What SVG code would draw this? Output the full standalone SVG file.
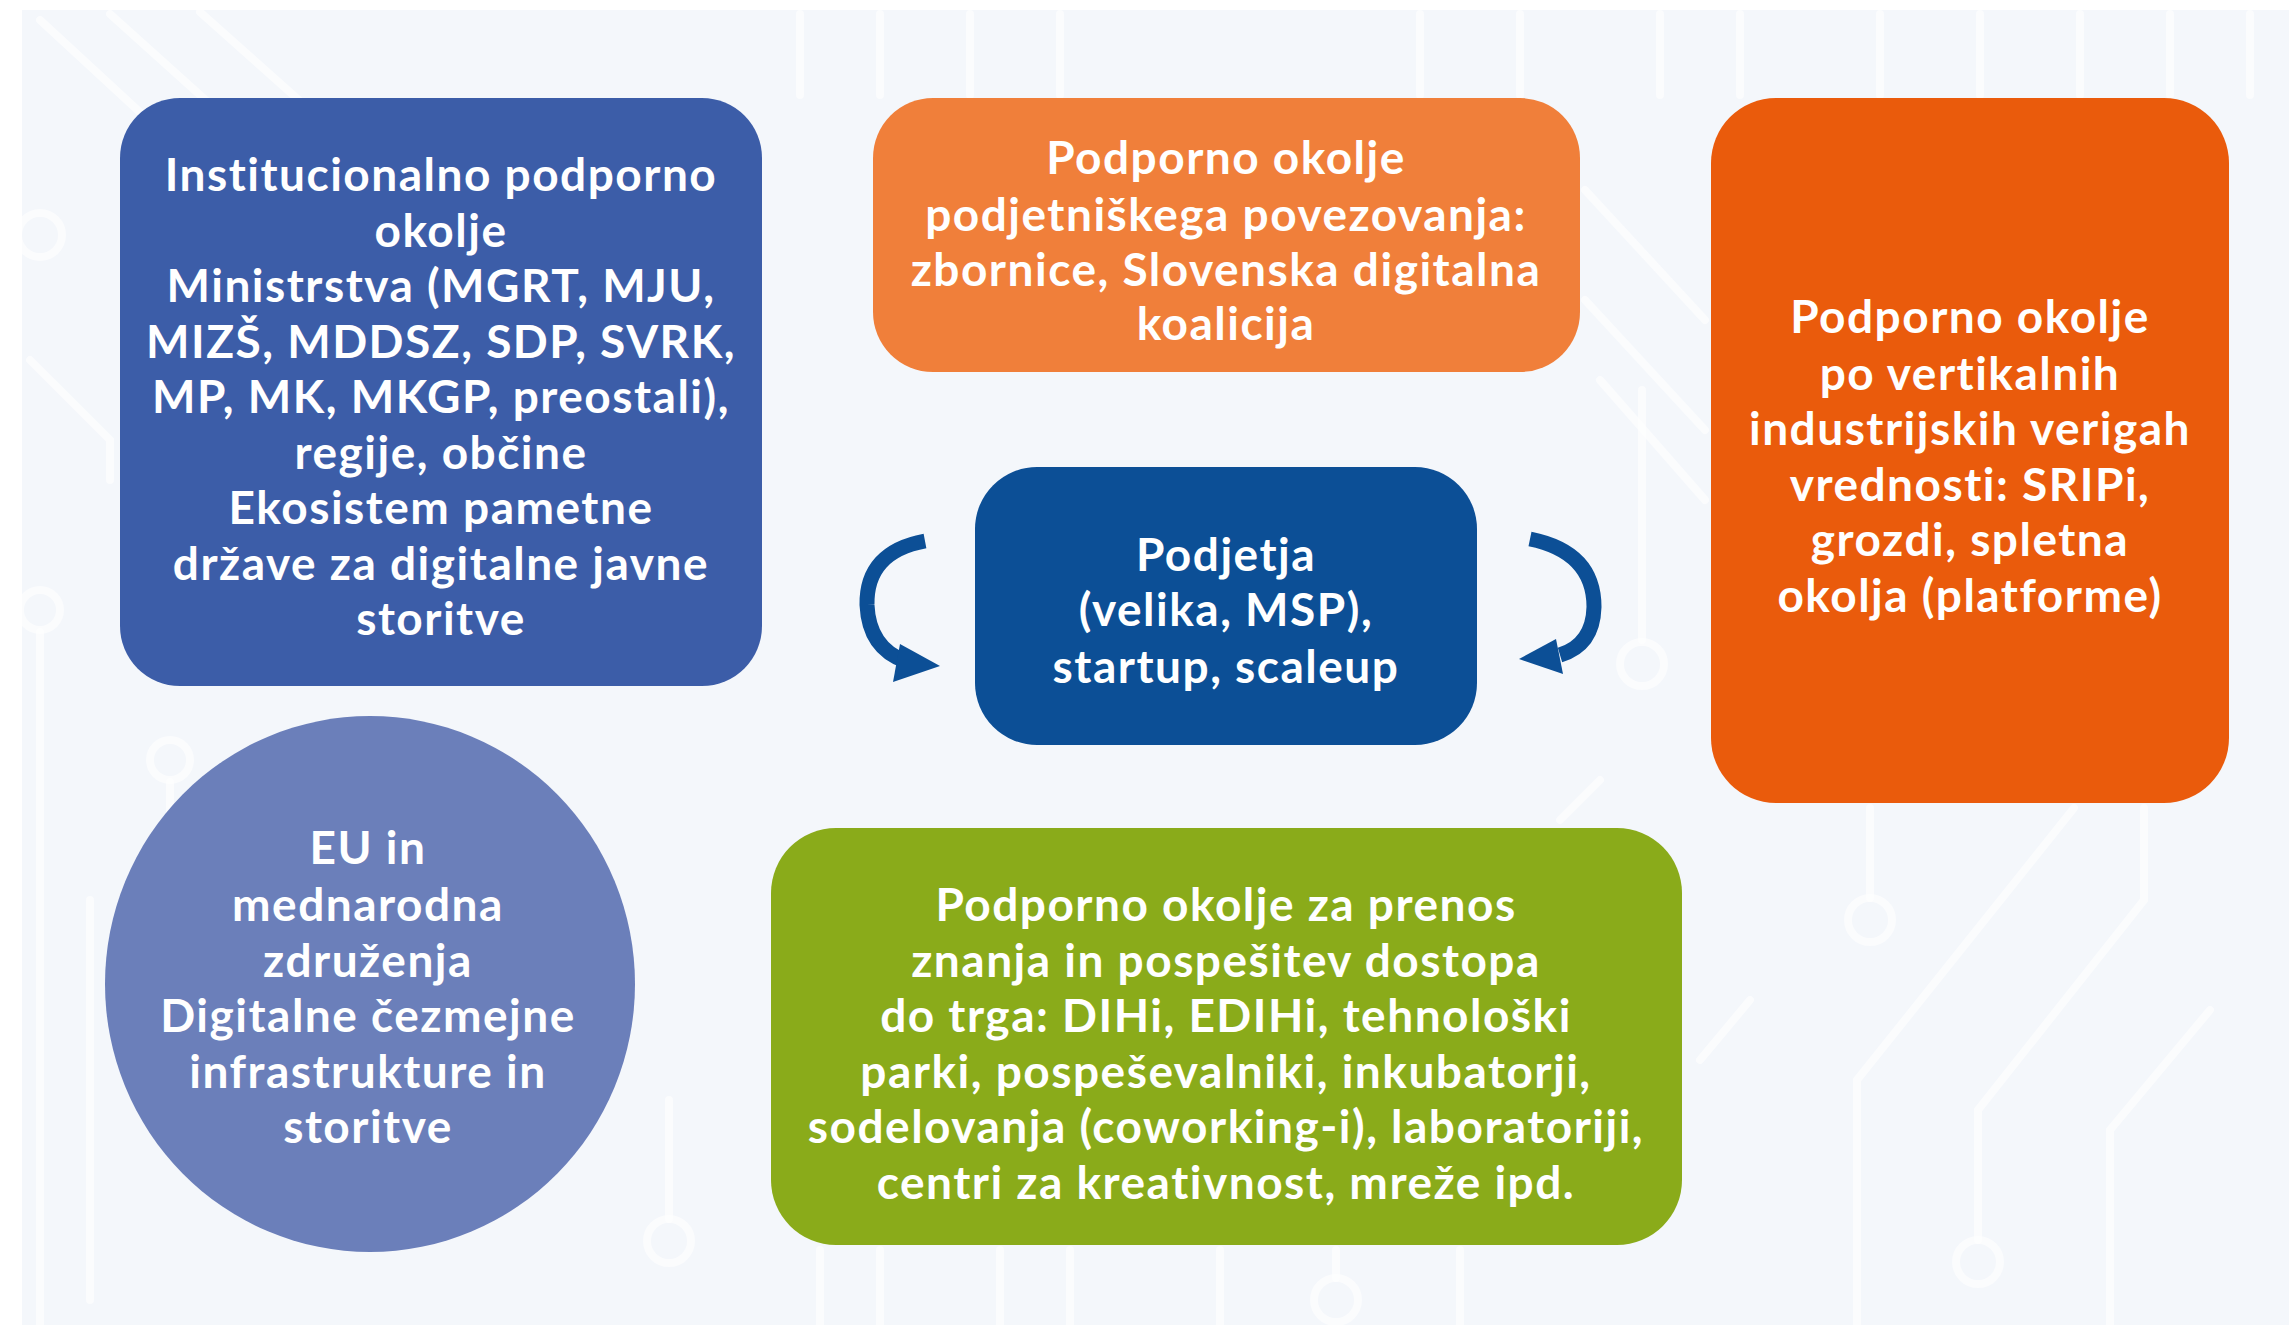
<svg xmlns="http://www.w3.org/2000/svg" width="2289" height="1330" viewBox="0 0 2289 1330">
<style>
.t{font-family:Lato,"Open Sans","Liberation Sans",sans-serif;font-weight:700;font-size:46px;letter-spacing:1.5px;fill:#ffffff;text-anchor:middle}
.c{stroke:#ffffff;stroke-width:8;fill:none;stroke-linecap:round;opacity:0.6}
.d{fill:none;stroke:#ffffff;stroke-width:8;opacity:0.6}
.arr{fill:none;stroke:#0c4f96;stroke-width:15;stroke-linecap:butt}
.head{fill:#0c4f96}
</style>
<rect x="0" y="0" width="2289" height="1330" fill="#ffffff"/>
<rect x="22" y="10" width="2267" height="1315" fill="#f4f7fb"/>
<g id="background">
<path class="c" d="M40 20 L170 140 M110 14 L250 140 M200 12 L310 110 M30 360 L110 440 L110 480"/>
<path class="c" d="M800 14 V95 M880 14 V95 M970 14 V95 M1060 14 V95 M1420 14 V95 M1520 14 V95 M1660 14 V95 M1740 14 V95 M1880 14 V95 M1980 14 V95 M2080 14 V95 M2170 14 V95 M2250 14 V95"/>
<path class="c" d="M1585 190 L1705 320 M1585 300 L1705 430 M1600 380 L1705 500"/>
<path class="c" d="M1642 390 V640 M1600 780 L1560 820"/>
<circle class="d" cx="1642" cy="664" r="22"/>
<circle class="d" cx="40" cy="235" r="22"/>
<circle class="d" cx="40" cy="610" r="20"/>
<path class="c" d="M40 632 V1325 M170 782 V860 M90 900 V1300"/>
<circle class="d" cx="170" cy="760" r="20"/>
<path class="c" d="M669 1100 V1219 M820 1250 V1325 M880 1250 V1325 M1000 1250 V1325 M1070 1250 V1325 M1220 1250 V1325 M1460 1250 V1325 M1336 1250 V1278"/>
<circle class="d" cx="669" cy="1241" r="22"/>
<circle class="d" cx="1336" cy="1300" r="22"/>
<path class="c" d="M1870 808 V898 M2074 808 L1857 1080 V1325 M2144 808 V900 L1978 1110 V1240 M2210 1010 L2110 1130 V1325 M1750 1000 L1700 1060"/>
<circle class="d" cx="1870" cy="920" r="22"/>
<circle class="d" cx="1978" cy="1262" r="22"/>
</g>
<g id="connectors">
<path class="arr" d="M925 541 Q866 552 867 605 Q869 648 905 661"/>
<polygon class="head" points="940,666 900,644 893,682"/>
<path class="arr" d="M1530 539 Q1594 552 1594 607 Q1593 645 1560 655"/>
<polygon class="head" points="1519,659 1556,639 1563,674"/>
</g>
<g id="node-institucionalno">
<rect x="120" y="98" width="642" height="588" rx="60" fill="#3c5da8"/>
<text class="t" x="441" y="191">Institucionalno podporno</text>
<text class="t" x="441" y="247">okolje</text>
<text class="t" x="441" y="302">Ministrstva (MGRT, MJU,</text>
<text class="t" x="441" y="358">MIZŠ, MDDSZ, SDP, SVRK,</text>
<text class="t" x="441" y="413">MP, MK, MKGP, preostali),</text>
<text class="t" x="441" y="469">regije, občine</text>
<text class="t" x="441" y="524">Ekosistem pametne</text>
<text class="t" x="441" y="580">države za digitalne javne</text>
<text class="t" x="441" y="635">storitve</text>
</g>
<g id="node-povezovanje">
<rect x="873" y="98" width="707" height="274" rx="60" fill="#f07f3a"/>
<text class="t" x="1226" y="174">Podporno okolje</text>
<text class="t" x="1226" y="231">podjetniškega povezovanja:</text>
<text class="t" x="1226" y="286">zbornice, Slovenska digitalna</text>
<text class="t" x="1226" y="340">koalicija</text>
</g>
<g id="node-vertikalne">
<rect x="1711" y="98" width="518" height="705" rx="65" fill="#ea5b0c"/>
<text class="t" x="1970" y="333">Podporno okolje</text>
<text class="t" x="1970" y="390">po vertikalnih</text>
<text class="t" x="1970" y="445">industrijskih verigah</text>
<text class="t" x="1970" y="501">vrednosti: SRIPi,</text>
<text class="t" x="1970" y="556">grozdi, spletna</text>
<text class="t" x="1970" y="612">okolja (platforme)</text>
</g>
<g id="node-podjetja">
<rect x="975" y="467" width="502" height="278" rx="62" fill="#0c4f96"/>
<text class="t" x="1226" y="571">Podjetja</text>
<text class="t" x="1226" y="626">(velika, MSP),</text>
<text class="t" x="1226" y="683">startup, scaleup</text>
</g>
<g id="node-eu">
<ellipse cx="370" cy="984" rx="265" ry="268" fill="#6b7fba"/>
<text class="t" x="368" y="864">EU in</text>
<text class="t" x="368" y="921">mednarodna</text>
<text class="t" x="368" y="977">združenja</text>
<text class="t" x="368" y="1032">Digitalne čezmejne</text>
<text class="t" x="368" y="1088">infrastrukture in</text>
<text class="t" x="368" y="1143">storitve</text>
</g>
<g id="node-prenos">
<rect x="771" y="828" width="911" height="417" rx="65" fill="#8aab1a"/>
<text class="t" x="1226" y="921">Podporno okolje za prenos</text>
<text class="t" x="1226" y="977">znanja in pospešitev dostopa</text>
<text class="t" x="1226" y="1032">do trga: DIHi, EDIHi, tehnološki</text>
<text class="t" x="1226" y="1088">parki, pospeševalniki, inkubatorji,</text>
<text class="t" x="1226" y="1143">sodelovanja (coworking-i), laboratoriji,</text>
<text class="t" x="1226" y="1199">centri za kreativnost, mreže ipd.</text>
</g>
</svg>
